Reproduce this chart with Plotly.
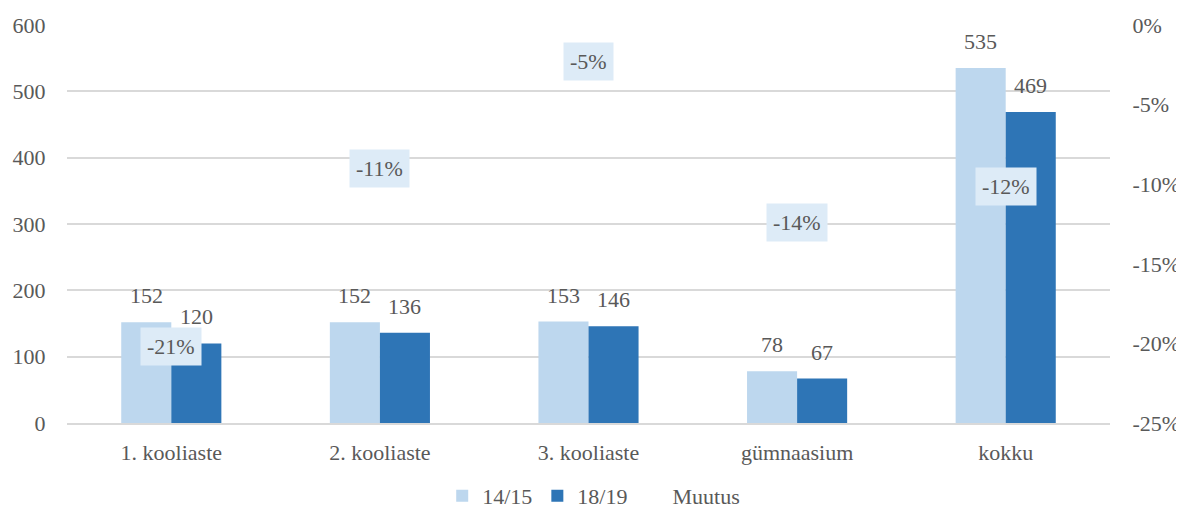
import plotly.graph_objects as go

categories = ["1. kooliaste", "2. kooliaste", "3. kooliaste", "gümnaasium", "kokku"]
values_1415 = [152, 152, 153, 78, 535]
values_1819 = [120, 136, 146, 67, 469]
muutus = [-0.21, -0.11, -0.05, -0.14, -0.12]
muutus_labels = ["-21%", "-11%", "-5%", "-14%", "-12%"]
left_ticks = [0, 100, 200, 300, 400, 500, 600]
right_ticks = [0, -0.05, -0.10, -0.15, -0.20, -0.25]
right_tick_labels = ["0%", "-5%", "-10%", "-15%", "-20%", "-25%"]

FONT = "Liberation Serif"
FS = 22
TXT = "#595959"
LIGHT = "#BDD7EE"
DARK = "#2E75B6"
GRID = "#D9D9D9"
BARGAP = 0.52
HALF = (1 - BARGAP) / 4  # offset of each bar centre from category centre

fig = go.Figure()
fig.add_trace(go.Bar(x=categories, y=values_1415, name="14/15", marker_color=LIGHT,
                     marker_line_width=0))
fig.add_trace(go.Bar(x=categories, y=values_1819, name="18/19", marker_color=DARK,
                     marker_line_width=0))
fig.add_trace(go.Scatter(
    x=categories, y=muutus, name="Muutus", mode="lines",
    line=dict(color="rgba(0,0,0,0)", width=2), yaxis="y3", hoverinfo="skip",
))
fig.add_trace(go.Scatter(
    x=categories, y=muutus, mode="lines", yaxis="y2", showlegend=False,
    line=dict(color="rgba(0,0,0,0)"), hoverinfo="skip",
))

# bar value labels
for i, (a, b) in enumerate(zip(values_1415, values_1819)):
    for xpos, v in ((i - HALF, a), (i + HALF, b)):
        fig.add_annotation(x=xpos, y=v, xref="x", yref="y", text=str(v), showarrow=False,
                           yanchor="bottom", yshift=12,
                           font=dict(family=FONT, size=FS, color=TXT))

# change labels
for c, v, lab in zip(categories, muutus, muutus_labels):
    fig.add_annotation(
        x=c, y=v, xref="x", yref="y3", text=lab, showarrow=False,
        font=dict(family=FONT, size=FS, color=TXT),
        bgcolor="#DDEBF7", borderpad=6,
    )

fig.update_layout(
    width=1176, height=510,
    margin=dict(l=59, r=74, t=17, b=95),
    plot_bgcolor="white", paper_bgcolor="white",
    barmode="group", bargap=BARGAP, bargroupgap=0,
    font=dict(family=FONT, size=FS, color=TXT),
    showlegend=True,
    legend=dict(orientation="h", x=0.505, xanchor="center",
                yref="container", y=0.043, yanchor="middle",
                font=dict(family=FONT, size=FS, color=TXT), itemwidth=30,
                bgcolor="rgba(0,0,0,0)"),
    xaxis=dict(showgrid=False, showline=True, linecolor=GRID, linewidth=1.5,
               automargin=False,
               ticks="outside", tickcolor="rgba(0,0,0,0)", ticklen=9,
               tickfont=dict(family=FONT, size=FS, color=TXT)),
    yaxis=dict(range=[0, 600], tickvals=left_ticks, showgrid=True, gridcolor=GRID,
               gridwidth=1.5, zeroline=False, showline=False, automargin=False,
               ticks="outside", tickcolor="rgba(0,0,0,0)", ticklen=16,
               tickfont=dict(family=FONT, size=FS, color=TXT)),
    yaxis2=dict(range=[-0.25, 0], overlaying="y", side="right", showgrid=False,
                zeroline=False, tickvals=right_ticks, ticktext=right_tick_labels,
                automargin=False,
                ticks="outside", tickcolor="rgba(0,0,0,0)", ticklen=17,
                tickfont=dict(family=FONT, size=FS, color=TXT)),
    yaxis3=dict(range=[-0.2526, -0.0296], overlaying="y", visible=False),
)

fig.write_html("out.html")
